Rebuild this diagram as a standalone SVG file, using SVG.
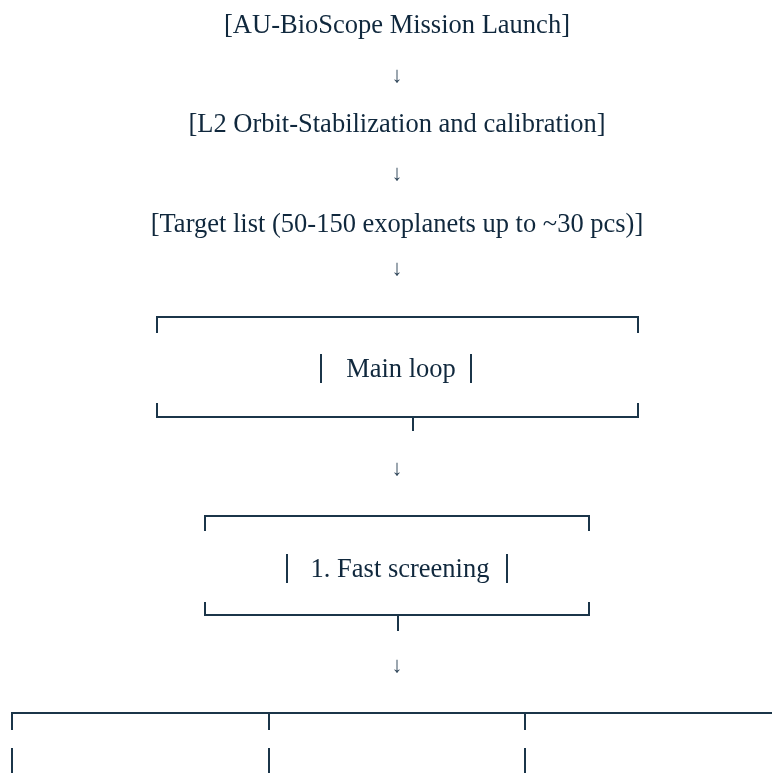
<svg xmlns="http://www.w3.org/2000/svg" width="772" height="773" viewBox="0 0 772 773">
<defs>
<filter id="flat" x="-0.2" y="-1" width="1.4" height="3"><feOffset dx="0" dy="0"/></filter>
</defs>
<style>
text{font-family:'Liberation Serif','Times New Roman',Times,serif;filter:url(#flat)}
.t{font-size:26.5px;fill:#10283d;text-anchor:middle}
.a{font-size:22px;fill:#33495c;text-anchor:middle}
.ln{fill:none;stroke:#1b3549;stroke-width:2}
</style>
<rect width="772" height="773" fill="#ffffff"/>
<g id="launch"><text class="t" x="397" y="33">[AU-BioScope Mission Launch]</text></g>
<g id="orbit"><text class="t" x="397" y="132">[L2 Orbit-Stabilization and calibration]</text></g>
<g id="targets"><text class="t" x="397" y="232">[Target list (50-150 exoplanets up to ~30 pcs)]</text></g>
<g id="mainloop">
<path class="ln" d="M157,333 V317 H638 V333 M157,403 V417 H638 V403"/>
<path class="ln" d="M321,354 V383 M471,354 V383"/>
<text class="t" x="401" y="377">Main loop</text>
</g>
<g id="screening">
<path class="ln" d="M205,531 V516 H589 V531 M205,602 V615 H589 V602"/>
<path class="ln" d="M287,554 V583 M507,554 V583"/>
<text class="t" x="400" y="577">1. Fast screening</text>
</g>
<g id="branches">
<path class="ln" d="M12,730 V713 H772 M269,713 V730 M525,713 V730"/>
<path class="ln" d="M12,748 V773 M269,748 V773 M525,748 V773"/>
</g>
<g id="connectors">
<text class="a" x="397" y="82">↓</text>
<text class="a" x="397" y="180">↓</text>
<text class="a" x="397" y="275">↓</text>
<text class="a" x="397" y="475">↓</text>
<text class="a" x="397" y="672">↓</text>
<path class="ln" d="M413,417 V431"/>
<path class="ln" d="M398,615 V631"/>
</g>
</svg>
